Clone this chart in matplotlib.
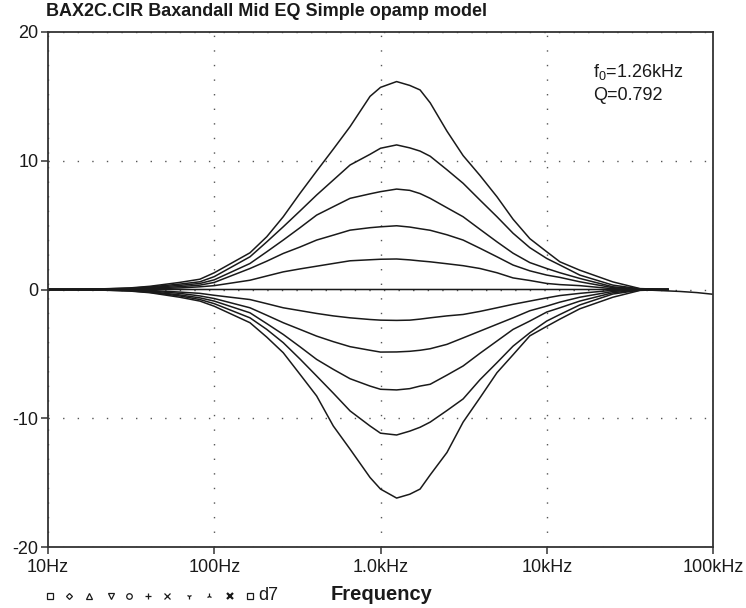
import matplotlib.pyplot as plt
import numpy as np
from matplotlib.lines import Line2D

plt.rcParams['font.family'] = ['Liberation Sans', 'DejaVu Sans']
plt.rcParams['mathtext.fontset'] = 'custom'
plt.rcParams['mathtext.rm'] = 'Liberation Sans'
plt.rcParams['axes.unicode_minus'] = False

# frequencies (Hz)
freq = [10, 20, 31, 41, 62, 82, 100, 164, 207, 260, 328, 413, 520, 656, 865,
        1000, 1250, 1500, 1730, 1990, 2510, 3140, 3970, 5020, 6270, 7910,
        10000, 12000, 15800, 25000, 36400, 53600]

# boost curves (dB)
p5 = [0, 0.04, 0.12, 0.25, 0.55, 0.8, 1.3, 2.85, 4.1, 5.65, 7.47, 9.2, 10.9, 12.65, 15.0,
      15.7, 16.15, 15.85, 15.5, 14.5, 12.3, 10.4, 8.85, 7.2, 5.46, 3.95,
      2.93, 2.15, 1.5, 0.59, 0.07, 0]
p4 = [0, 0.03, 0.1, 0.2, 0.42, 0.6, 1.0, 2.54, 3.7, 4.87, 6.1, 7.34, 8.5, 9.67, 10.5,
      10.97, 11.23, 11.0, 10.75, 10.35, 9.3, 8.25, 6.94, 5.65, 4.37, 3.25,
      2.41, 1.9, 1.12, 0.34, 0.05, 0]
p3 = [0, 0.02, 0.07, 0.15, 0.32, 0.47, 0.75, 2.02, 2.93, 3.84, 4.8, 5.78, 6.43, 7.08, 7.43,
      7.6, 7.8, 7.7, 7.45, 7.08, 6.35, 5.65, 4.67, 3.7, 2.82, 2.09,
      1.63, 1.3, 0.86, 0.21, 0.03, 0]
p2 = [0, 0.01, 0.05, 0.1, 0.22, 0.34, 0.55, 1.63, 2.2, 2.8, 3.3, 3.84, 4.22, 4.61, 4.8,
      4.87, 4.95, 4.85, 4.72, 4.6, 4.25, 3.84, 3.2, 2.54, 1.9, 1.45,
      1.12, 0.94, 0.6, 0.14, 0.02, 0]
p1 = [0, 0.01, 0.02, 0.05, 0.12, 0.21, 0.3, 0.72, 1.05, 1.37, 1.6, 1.81, 2.02, 2.23, 2.31,
      2.35, 2.37, 2.3, 2.22, 2.15, 2.0, 1.85, 1.63, 1.3, 0.9, 0.7,
      0.47, 0.38, 0.3, 0.06, 0.01, 0]

# cut curves (dB)
n1 = [0, -0.01, -0.03, -0.07, -0.2, -0.3, -0.45, -0.78, -1.1, -1.42, -1.64, -1.86, -2.05, -2.2, -2.33,
      -2.38, -2.4, -2.38, -2.3, -2.2, -2.05, -1.94, -1.7, -1.42, -1.15, -0.9,
      -0.65, -0.47, -0.3, -0.06, -0.01, 0]
n2 = [0, -0.02, -0.06, -0.12, -0.3, -0.5, -0.7, -1.42, -2.0, -2.58, -3.1, -3.62, -4.05, -4.44, -4.72,
      -4.86, -4.85, -4.8, -4.72, -4.6, -4.26, -3.76, -3.23, -2.7, -2.2, -1.65,
      -1.29, -0.98, -0.6, -0.15, -0.02, 0]
n3 = [0, -0.02, -0.08, -0.17, -0.42, -0.65, -0.9, -1.81, -2.65, -3.49, -4.45, -5.43, -6.2, -6.93, -7.5,
      -7.75, -7.8, -7.7, -7.5, -7.36, -6.65, -5.94, -4.95, -4.0, -3.1, -2.45,
      -1.75, -1.42, -0.9, -0.25, -0.03, 0]
n4 = [0, -0.03, -0.1, -0.22, -0.5, -0.78, -1.1, -2.2, -3.1, -4.13, -5.4, -6.72, -8.05, -9.43, -10.6,
      -11.16, -11.3, -11.0, -10.7, -10.3, -9.4, -8.5, -7.0, -5.68, -4.4, -3.36,
      -2.45, -1.94, -1.2, -0.35, -0.05, 0]
n5 = [0, -0.04, -0.12, -0.25, -0.6, -0.9, -1.3, -2.58, -3.7, -4.91, -6.59, -8.27, -10.6, -12.4, -14.6,
      -15.5, -16.2, -15.9, -15.5, -14.4, -12.66, -10.3, -8.4, -6.46, -5.07, -3.6,
      -2.86, -2.3, -1.5, -0.6, -0.07, 0]

# flat setting, runs to 100kHz
freq0 = [10, 1000, 10000, 30000, 42000, 63000, 80000, 100000]
flat = [0, 0, 0, 0, -0.05, -0.15, -0.24, -0.37]

curves = [p5, p4, p3, p2, p1, n1, n2, n3, n4, n5]

xticks = [10, 100, 1000, 10000, 100000]
xlabels = ['10Hz', '100Hz', '1.0kHz', '10kHz', '100kHz']
yticks = [-20, -10, 0, 10, 20]

fig = plt.figure(figsize=(7.46, 6.08), dpi=100)
ax = fig.add_axes([48/746, 1 - 547/608, (713 - 48)/746, (547 - 32)/608])

for c in curves:
    ax.plot(freq, c, color='#1a1a1a', lw=1.1)
ax.plot(freq0, flat, color='#1a1a1a', lw=1.1)

ax.set_xscale('log')
ax.set_xlim(10, 100000)
ax.set_ylim(-20, 20)
ax.set_xticks(xticks)
ax.set_xticklabels(xlabels)
ax.minorticks_off()
ax.set_yticks(yticks)
ax.tick_params(axis='both', labelsize=13, direction='out', length=5, width=1.1,
               color='#333333', labelcolor='#1a1a1a')
ax.tick_params(axis='y', pad=2)
ax.tick_params(axis='x', pad=4)
ax.grid(True, which='major', color='#555555', lw=1.0, linestyle=(0, (1, 9.5)))
for s in ax.spines.values():
    s.set_color('#333333')
    s.set_linewidth(1.3)

fig.text(46/746, 1 - 12/608, 'BAX2C.CIR Baxandall Mid EQ Simple opamp model',
         fontsize=13, fontweight='bold', color='#1a1a1a', va='center', ha='left')
ax.text(593/746, 1 - 72/608, r'f$_\mathrm{0}$=1.26kHz', transform=fig.transFigure,
        fontsize=13, color='#1a1a1a', va='center')
ax.text(593/746, 1 - 95/608, 'Q=0.792', transform=fig.transFigure,
        fontsize=13, color='#1a1a1a', va='center')
fig.text(382/746, 1 - 595/608, 'Frequency', fontsize=14.5, fontweight='bold',
         color='#1a1a1a', ha='center', va='center')

# probe marker row
marks = ['s', 'D', '^', 'v', 'o', '+', 'x', '1', '2', 'x', 's']
mx = [50, 69, 89, 111, 129, 148, 167, 189, 209, 230, 250]
for m, xp in zip(marks, mx):
    fig.add_artist(Line2D([xp/746], [1 - 596/608], transform=fig.transFigure,
                          marker=m, ms=4 if m not in ('D',) else 3, mfc='none',
                          mec='#1a1a1a', mew=1.6 if xp == 230 else 0.9, ls='none'))
fig.text(258/746, 1 - 595/608, 'd7', fontsize=13, color='#1a1a1a', va='center')

fig.savefig('out.png', dpi=100)
